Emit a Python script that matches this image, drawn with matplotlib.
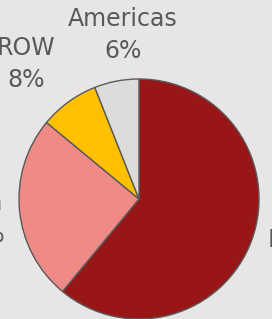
import matplotlib.pyplot as plt

# slice data, clockwise from 12 o'clock
regions = ["Europe", "Asia", "ROW", "Americas"]
shares = [61, 25, 8, 6]
colors = ["#981616", "#f08a87", "#ffc000", "#dcdcdc"]

BG = "#e7e5e6"
TXT = "#595959"

W, H = 272, 319
fig = plt.figure(figsize=(W / 100, H / 100), dpi=100, facecolor=BG)
ax = fig.add_axes([0, 0, 1, 1])
ax.set_facecolor(BG)
ax.set_xlim(0, W)
ax.set_ylim(0, H)
ax.axis("off")

# pie in pixel coords (y up)
cx, cy, r = 139, H - 199, 120
ax.pie(shares, colors=colors, startangle=90, counterclock=False,
       center=(cx, cy), radius=r, frame=True,
       wedgeprops=dict(edgecolor=TXT, linewidth=1))
ax.set_xlim(0, W)
ax.set_ylim(0, H)
ax.axis("off")

fs = 17
lab = {r_: f"{r_}\n{s}%" for r_, s in zip(regions, shares)}
ax.text(123, H - 35, lab["Americas"], ha="center", va="center", fontsize=fs,
        color=TXT, linespacing=1.45, multialignment="center")
ax.text(26, H - 64, lab["ROW"], ha="center", va="center", fontsize=fs,
        color=TXT, linespacing=1.45, multialignment="center")
ax.text(5, H - 219, lab["Asia"], ha="right", va="center", fontsize=fs,
        color=TXT, linespacing=1.45, multialignment="center")
ax.text(268, H - 256, lab["Europe"], ha="left", va="center", fontsize=fs,
        color=TXT, linespacing=1.45, multialignment="center")

fig.savefig("out.png", dpi=100, facecolor=BG)
